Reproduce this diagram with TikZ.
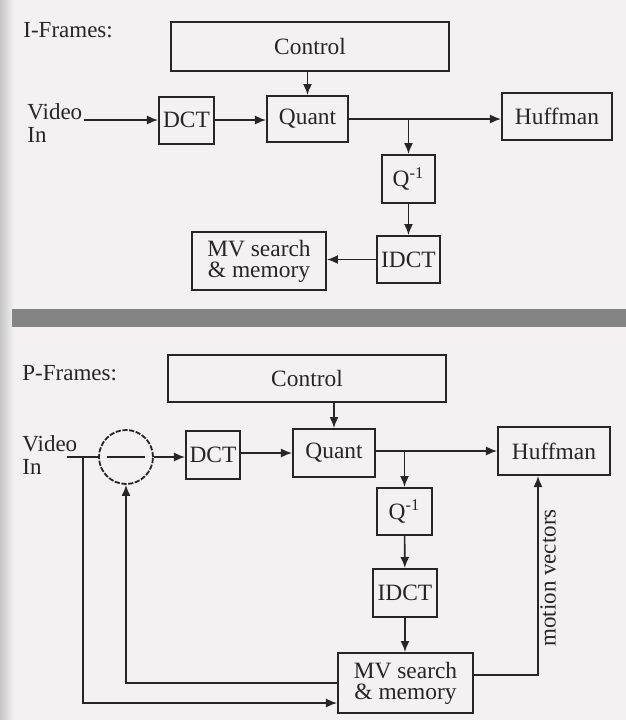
\documentclass[tikz,border=0pt]{standalone}
\usepackage{fontspec}
\setmainfont{Liberation Serif}
\usetikzlibrary{arrows.meta,calc}
\definecolor{page}{RGB}{243,241,241}
\definecolor{ink}{RGB}{38,38,38}
\definecolor{band}{RGB}{132,132,132}
\tikzset{
  blk/.style  = {draw=ink, line width=1pt, align=center, inner sep=0pt,
                 text=ink, font=\fontsize{11.7}{10.5}\selectfont},
  ar/.style   = {-{Latex[length=5.5pt,width=4.5pt]}, line width=0.8pt, draw=ink},
  ln/.style   = {line width=0.8pt, draw=ink},
  lbl/.style  = {anchor=west, align=left, inner sep=0pt, text=ink,
                 font=\fontsize{11.5}{11.5}\selectfont},
  sub/.style  = {circle, draw=ink, dash pattern=on 2.6pt off 0.8pt, line width=0.9pt,
                 minimum size=27pt, inner sep=0pt},
}

\begin{document}
\begin{tikzpicture}[x=0.5pt, y=-0.5pt]

\useasboundingbox (0,0) rectangle (626,720);
\fill[page] (0,0) rectangle (626,720);
\shade[left color=black!22, right color=page] (0,0) rectangle (14,720);
\fill[band] (12,309) rectangle (626,327);

\node[lbl] (ifr) at (23,30) {I-Frames:};
\node[blk, minimum width=139pt, minimum height=24.5pt] (ctrlI) at (310,46.5) {Control};
\node[lbl] (vidI) at (27,123.5) {Video\\In};
\node[blk, minimum width=27.5pt, minimum height=23.5pt] (dctI) at (186.5,120) {DCT};
\node[blk, minimum width=40.5pt, minimum height=23pt] (quantI) at (307.5,119) {Quant};
\node[blk, minimum width=55pt, minimum height=23.5pt] (huffI) at (557,116.5) {Huffman};
\node[blk, minimum width=26.5pt, minimum height=24pt] (qinvI) at (408.5,179) {Q\textsuperscript{-1}};
\node[blk, minimum width=31.5pt, minimum height=23.5pt] (idctI) at (408.5,259.5) {IDCT};
\node[blk, minimum width=67pt, minimum height=29pt] (mvI) at (259,261) {MV search\\\& memory};

\coordinate (inI) at (84,120);
\draw[ar] (inI) -- (dctI.west);
\draw[ar] (dctI.east) -- (dctI.east -| quantI.west);
\draw[ar] (quantI.east) -- (quantI.east -| huffI.west);
\coordinate (brI) at (qinvI.north |- quantI.east);
\draw[ar] (brI) -- (qinvI.north);
\draw[ar] (ctrlI.south -| quantI.north) -- (quantI.north);
\draw[ar] (qinvI) -- (idctI);
\draw[ar] (idctI.west) -- (idctI.west -| mvI.east);

\node[lbl] (pfr) at (22,373) {P-Frames:};
\node[blk, minimum width=139pt, minimum height=23.5pt] (ctrlP) at (307,378.5) {Control};
\node[lbl] (vidP) at (22,455) {Video\\In};
\node[sub] (subP) at (126,457) {};
\node[blk, minimum width=27pt, minimum height=24pt] (dctP) at (213,455) {DCT};
\node[blk, minimum width=41pt, minimum height=24pt] (quantP) at (334,453) {Quant};
\node[blk, minimum width=56pt, minimum height=24pt] (huffP) at (554,451) {Huffman};
\node[blk, minimum width=27.5pt, minimum height=23.5pt] (qinvP) at (404.5,511.5) {Q\textsuperscript{-1}};
\node[blk, minimum width=32pt, minimum height=24pt] (idctP) at (405,593) {IDCT};
\node[blk, minimum width=67.5pt, minimum height=30pt] (mvP) at (405.5,683) {MV search\\\& memory};

\draw[ln] ([xshift=-9.5pt]subP.center) -- ([xshift=9.5pt]subP.center);
\coordinate (inP) at (67,457);
\coordinate (tapP) at (83,457);
\draw[ln] (inP) -- (subP.west);
\draw[ar] (tapP) |- ([yshift=-10pt]mvP.west);
\draw[ar] (mvP.west) -| (subP.south);
\draw[ar] (subP.east) -- (subP.east -| dctP.west);
\draw[ar] (dctP.east |- quantP.west) -- (quantP.west);
\draw[ar] (quantP.east |- huffP.west) -- (huffP.west);
\coordinate (brP) at (qinvP.north |- huffP.west);
\draw[ar] (brP) -- (qinvP.north);
\draw[ar] (ctrlP.south -| quantP.north) -- (quantP.north);
\draw[ar] (qinvP) -- (idctP);
\draw[ar] (idctP) -- (idctP |- mvP.north);
\draw[ar] ([yshift=4pt]mvP.east) -| ([xshift=-8pt]huffP.south);
\node[lbl, rotate=90, anchor=center] (mvlbl) at (548,578) {motion vectors};
\end{tikzpicture}
\end{document}
